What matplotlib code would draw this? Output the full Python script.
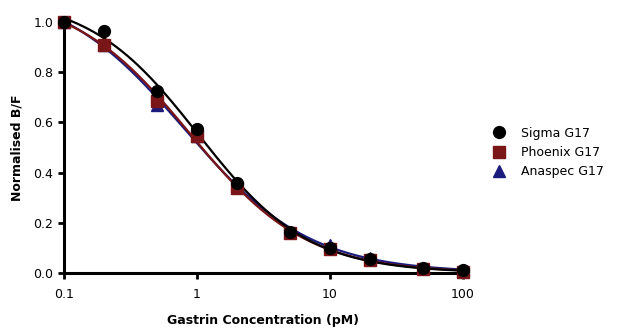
import matplotlib
matplotlib.use("Agg")
import matplotlib.pyplot as plt
import numpy as np

plt.rcParams["font.family"] = ["DejaVu Sans"]

# concentrations (pM)
conc = [0.1, 0.2, 0.5, 1, 2, 5, 10, 20, 50, 100]

sigma = [1.0, 0.965, 0.725, 0.575, 0.36, 0.165, 0.10, 0.055, 0.02, 0.01]
phoenix = [1.0, 0.91, 0.685, 0.545, 0.34, 0.16, 0.095, 0.05, 0.015, 0.005]
anaspec = [1.0, 0.91, 0.67, 0.545, 0.345, 0.165, 0.11, 0.06, 0.02, 0.01]

series_labels = ["Sigma G17", "Phoenix G17", "Anaspec G17"]


def fit_curve(x, y):
    """One-site competition fit (bottom=0, top free) by grid search."""
    x = np.asarray(x, float)
    y = np.asarray(y, float)
    best = None
    for logic in np.linspace(-0.5, 0.8, 261):
        for h in np.linspace(0.6, 2.0, 141):
            f = 1.0 / (1.0 + (x / 10 ** logic) ** h)
            top = np.sum(f * y) / np.sum(f * f)
            err = np.sum((top * f - y) ** 2)
            if best is None or err < best[0]:
                best = (err, logic, h, top)
    return best[1:]


fig = plt.figure(figsize=(6.17, 3.30), dpi=100)
ax = fig.add_axes([0.104, 0.173, 0.646, 0.760])

xs = np.logspace(-1, 2, 300)
styles = [
    (anaspec, "#1c1c7c", "^", 8.5),
    (phoenix, "#7a1518", "s", 8.0),
    (sigma, "black", "o", 8.5),
]
names = {id(sigma): series_labels[0], id(phoenix): series_labels[1], id(anaspec): series_labels[2]}
handles = {}
for data, color, marker, ms in styles:
    logic, h, top = fit_curve(conc, data)
    ax.plot(xs, top / (1.0 + (xs / 10 ** logic) ** h), color=color, lw=1.6,
            clip_on=False, zorder=3)
for data, color, marker, ms in styles:
    ln, = ax.plot(conc, data, linestyle="none", marker=marker, color=color,
                  markersize=ms, clip_on=False, zorder=4)
    handles[names[id(data)]] = ln

ax.set_xscale("log")
ax.set_xlim(0.1, 100)
ax.set_ylim(0, 1.0)
ax.set_xticks([0.1, 1, 10, 100])
ax.set_xticklabels(["0.1", "1", "10", "100"])
ax.minorticks_off()
ax.set_yticks([0.0, 0.2, 0.4, 0.6, 0.8, 1.0])
ax.set_yticklabels(["0.0", "0.2", "0.4", "0.6", "0.8", "1.0"])

for side in ["top", "right"]:
    ax.spines[side].set_visible(False)
for side in ["left", "bottom"]:
    ax.spines[side].set_linewidth(2.2)
ax.tick_params(axis="both", which="major", direction="out", width=2.0, length=4,
               labelsize=9, pad=4)
ax.tick_params(axis="x", pad=7)

ax.set_xlabel("Gastrin Concentration (pM)", fontsize=9, fontweight="bold", labelpad=9)
ax.set_ylabel("Normalised B/F", fontsize=9, fontweight="bold", labelpad=7)

leg = ax.legend([handles[n] for n in series_labels], series_labels,
                loc="center left", bbox_to_anchor=(1.04, 0.48), frameon=False,
                fontsize=9, handletextpad=1.0, labelspacing=0.5, handlelength=1.5)

fig.savefig("out.png", dpi=100)
